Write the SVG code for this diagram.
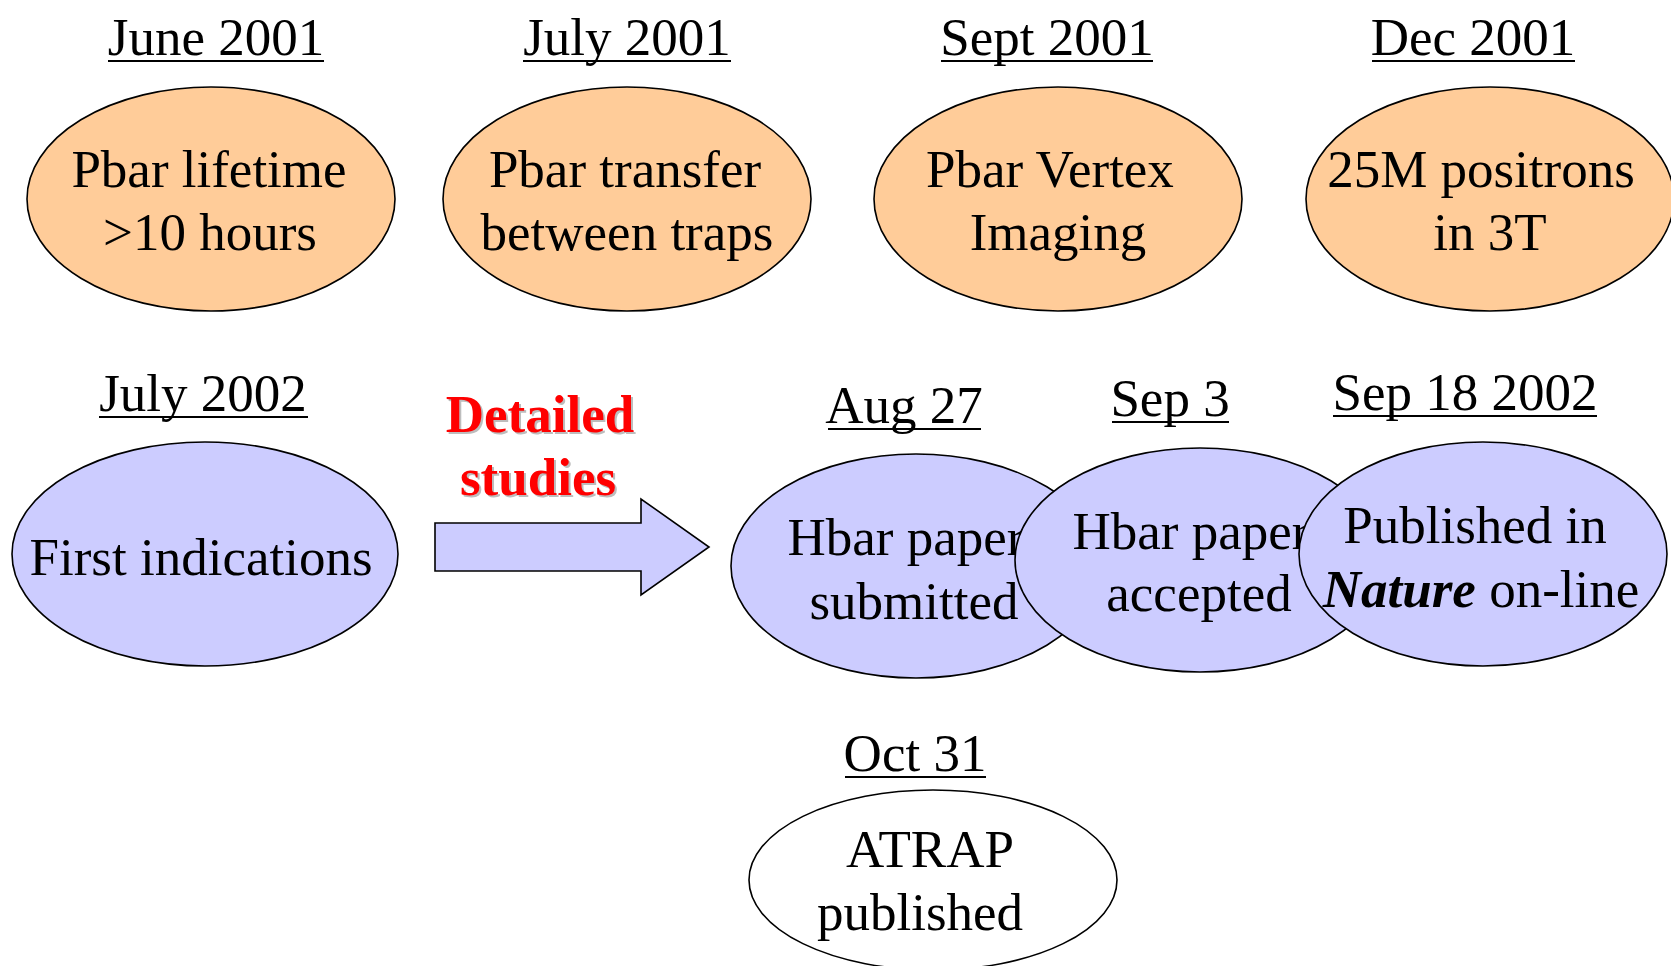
<svg xmlns="http://www.w3.org/2000/svg" width="1671" height="966" viewBox="0 0 1671 966">
<style>
text{font-family:"Liberation Serif","Times New Roman",serif;font-size:53px;fill:#000;text-anchor:middle}
.ul{stroke:#000;stroke-width:2}
.or{fill:#FFCC99;stroke:#000;stroke-width:1.6}
.bl{fill:#CCCCFF;stroke:#000;stroke-width:1.6}
.wh{fill:#FFFFFF;stroke:#000;stroke-width:1.6}
.red{font-weight:bold;fill:#FF0000}
.shd{font-weight:bold;fill:#BDBDBD}
</style>
<rect width="1671" height="966" fill="#FFFFFF"/>
<g id="n-june2001">
<text x="216" y="55">June 2001</text>
<line class="ul" x1="108" y1="61" x2="324" y2="61"/>
<ellipse class="or" cx="211" cy="199" rx="184" ry="112"/>
<text x="209" y="187">Pbar lifetime</text>
<text x="210" y="250">&gt;10 hours</text>
</g>
<g id="n-july2001">
<text x="627" y="55">July 2001</text>
<line class="ul" x1="523" y1="61" x2="731" y2="61"/>
<ellipse class="or" cx="627" cy="199" rx="184" ry="112"/>
<text x="625" y="187">Pbar transfer</text>
<text x="627" y="250">between traps</text>
</g>
<g id="n-sept2001">
<text x="1047" y="55">Sept 2001</text>
<line class="ul" x1="941" y1="61" x2="1153" y2="61"/>
<ellipse class="or" cx="1058" cy="199" rx="184" ry="112"/>
<text x="1050" y="187">Pbar Vertex</text>
<text x="1058" y="250">Imaging</text>
</g>
<g id="n-dec2001">
<text x="1473" y="55">Dec 2001</text>
<line class="ul" x1="1372" y1="61" x2="1575" y2="61"/>
<ellipse class="or" cx="1490" cy="199" rx="184" ry="112"/>
<text x="1481" y="187">25M positrons</text>
<text x="1490" y="250">in 3T</text>
</g>
<g id="n-july2002">
<text x="203" y="411">July 2002</text>
<line class="ul" x1="99" y1="417" x2="308" y2="417"/>
<ellipse class="bl" cx="205" cy="554" rx="193" ry="112"/>
<text x="201" y="575">First indications</text>
</g>
<g id="connectors">
<polygon class="bl" points="435,523 641,523 641,499 709,547 641,595 641,571 435,571"/>
<text class="shd" x="542" y="434">Detailed</text>
<text class="red" x="540" y="432">Detailed</text>
<text class="shd" x="540" y="497">studies</text>
<text class="red" x="538" y="495">studies</text>
</g>
<g id="n-aug27">
<text x="904" y="423">Aug 27</text>
<line class="ul" x1="828" y1="429" x2="981" y2="429"/>
<ellipse class="bl" cx="916" cy="566" rx="185" ry="112"/>
<text x="906" y="555">Hbar paper</text>
<text x="914" y="619">submitted</text>
</g>
<g id="n-sep3">
<text x="1170" y="416">Sep 3</text>
<line class="ul" x1="1112" y1="422" x2="1229" y2="422"/>
<ellipse class="bl" cx="1200" cy="560" rx="185" ry="112"/>
<text x="1191" y="549">Hbar paper</text>
<text x="1199" y="611">accepted</text>
</g>
<g id="n-sep18">
<text x="1465" y="410">Sep 18 2002</text>
<line class="ul" x1="1333" y1="416" x2="1597" y2="416"/>
<ellipse class="bl" cx="1483" cy="554" rx="184" ry="112"/>
<text x="1475" y="543">Published in</text>
<text x="1481" y="607"><tspan font-weight="bold" font-style="italic">Nature</tspan> on-line</text>
</g>
<g id="n-oct31">
<text x="915" y="771">Oct 31</text>
<line class="ul" x1="845" y1="777" x2="986" y2="777"/>
<ellipse class="wh" cx="933" cy="880" rx="184" ry="90"/>
<text x="930" y="867">ATRAP</text>
<text x="920" y="930">published</text>
</g>
</svg>
